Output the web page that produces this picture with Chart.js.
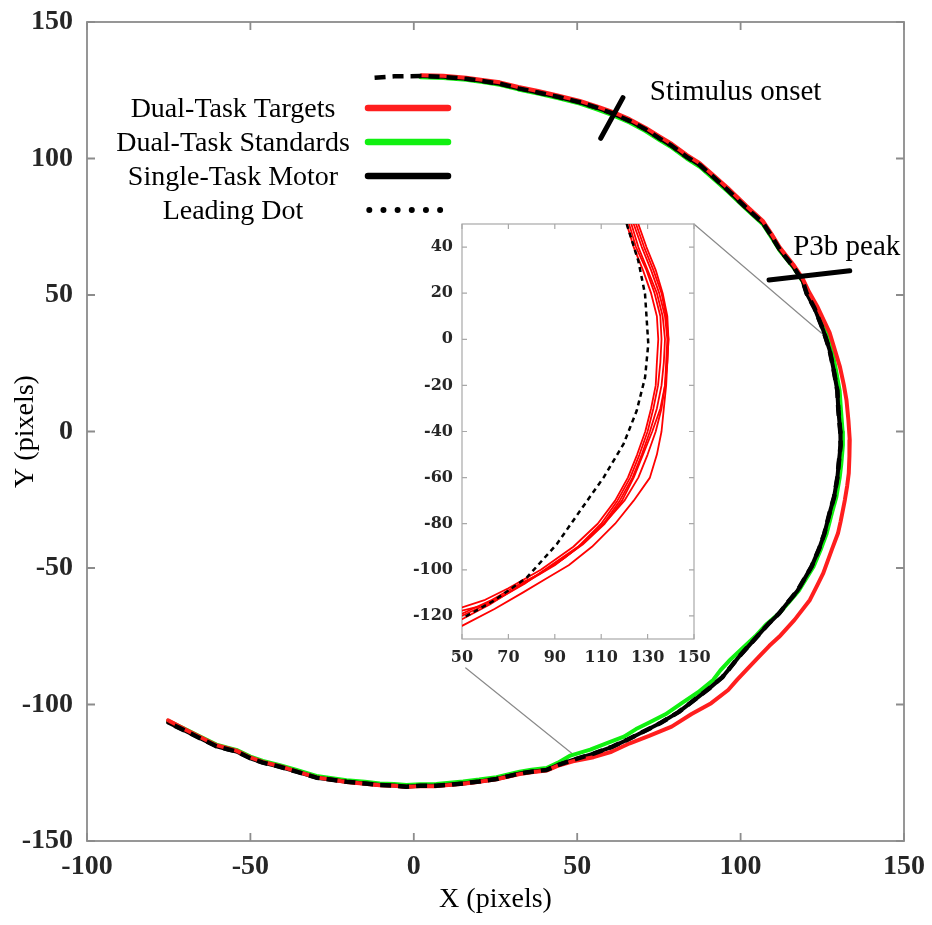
<!DOCTYPE html>
<html>
<head>
<meta charset="utf-8">
<script src="https://cdn.jsdelivr.net/npm/chart.js@4.4.1/dist/chart.umd.min.js"></script>
<style>
  html, body { margin: 0; padding: 0; background: #fff; }
  #wrap { position: relative; width: 932px; height: 925px; }
  #mainChart { position: absolute; left: 0; top: 0; }
  #zoomChart { position: absolute; left: 400px; top: 214px; }
</style>
</head>
<body>
<div id="wrap">
  <canvas id="mainChart" width="932" height="925"></canvas>
  <canvas id="zoomChart" width="310" height="462"></canvas>
</div>
<script>
// ejes del grafico principal
const mainXTicks = [-100, -50, 0, 50, 100, 150];
const mainYTicks = [-150, -100, -50, 0, 50, 100, 150];
// ejes del zoom
const zoomXTicks = [50, 70, 90, 110, 130, 150];
const zoomYTicks = [-120, -100, -80, -60, -40, -20, 0, 20, 40];

// trayectorias (x, y) en pixeles de pantalla
const targetsPath = [[2.3,130.5],[9,130.3],[16,129.6],[21,128.8],[26.3,127.9],[32,126.2],[38,124.7],[44,123.1],[50.8,121.1],[56,119.1],[61,117],[66,114.4],[71,111.2],[75.3,108],[79,105.3],[83.5,101.3],[87.5,98.3],[91.6,94],[96,89.3],[101.8,82.6],[106.9,77],[109.5,72.3],[112,67.4],[116.1,61.2],[119,56],[121,51],[123.6,45.5],[127.3,36],[130.4,23.7],[131.6,17],[132.4,11.5],[133,4],[133.4,-3.1],[133.3,-9],[133.1,-15.3],[132.6,-20],[131.9,-25.1],[130.6,-33],[129.8,-37.3],[128,-43],[125.3,-51.9],[123.6,-56],[121.2,-61.7],[116.5,-69],[111.8,-75.2],[108.8,-78.5],[106,-82],[102,-87],[98.9,-91],[96.2,-94.7],[91,-99.5],[85,-103.5],[78.9,-108.1],[72,-111.5],[66.1,-114.2],[60.5,-117.3],[55,-119.3],[48.7,-120.8],[44,-122.5],[40.6,-124.2],[36,-124.8],[32.4,-125.5],[25.3,-127.4],[20,-128.3],[15.1,-129],[6.9,-129.9],[2,-129.9],[-2.3,-130.2],[-6,-129.8],[-10.4,-129.6],[-15,-129],[-20.6,-128.4],[-25,-127.6],[-29.8,-126.7],[-35.9,-124.5],[-41,-122.6],[-46.2,-121],[-50,-119.4],[-54.3,-116.9],[-57,-116],[-60.4,-114.9],[-64,-112.7],[-70,-109.1],[-75.2,-105.8]];

const standardsPath = [[2,129.8],[9,129.5],[16,128.8],[21,128],[26.3,127],[32,125.3],[38,123.8],[44,122.1],[50.8,120.1],[56,118],[61,115.8],[66,113.2],[71,110],[75.3,106.7],[79,104],[83.5,100],[87.5,97],[91.6,92.7],[96,88],[101.8,81.4],[106.9,75.8],[109.5,71],[112,66.2],[116.1,60.2],[119,55],[120.6,50.6],[123.2,45.2],[125.9,37.4],[127.9,30],[129,23.7],[130.3,15],[130.7,8],[131.2,0],[131.3,-5],[130.8,-12],[130.3,-17],[129.3,-24],[127.9,-30],[126.3,-37.5],[124.6,-43],[122.3,-49.5],[120,-54],[117.8,-58.3],[114.8,-62.5],[111.8,-66.6],[108,-70.5],[104.5,-75],[100.5,-79.5],[96.5,-84],[93.8,-87.5],[91.6,-91],[87,-95.5],[82,-99.5],[77,-103.6],[71.6,-106.9],[68,-109],[64.3,-111.8],[58.9,-114.2],[54,-116.5],[47.9,-118.7],[44,-121.4],[40.6,-123.3],[36,-123.9],[32.4,-124.6],[25.3,-126.6],[20,-127.5],[15.1,-128.2],[6.9,-129.1],[2,-129.2],[-2.3,-129.5],[-6,-129.1],[-10.4,-128.9],[-15,-128.3],[-20.6,-127.7],[-25,-127],[-29.8,-126.2],[-35.9,-124],[-41,-122.2],[-46.2,-120.7],[-50,-119.1],[-54.3,-116.6],[-57,-115.8],[-60.4,-114.7],[-64,-112.6],[-70,-109],[-75.2,-106]];

const motorPath = [[2,130.2],[9,129.9],[16,129.2],[21,128.4],[26.3,127.4],[32,125.7],[38,124.2],[44,122.6],[50.8,120.6],[56,118.6],[61,116.4],[66,113.8],[71,110.6],[75.3,107.3],[79,104.6],[83.5,100.6],[87.5,97.6],[91.6,93.3],[96,88.5],[101.8,81.8],[106.9,76.3],[109.5,71.5],[112,66.6],[116.1,60.4],[119,55.2],[120.2,50.6],[122.6,45.2],[125.2,37.4],[127.2,30],[128.3,23.7],[129.6,15],[129.9,8],[130.5,0],[130.6,-5],[130,-12],[129.6,-17],[128.6,-24],[127.2,-30],[125.6,-37.5],[124,-43],[121.7,-49.5],[119.5,-54],[117.4,-58.3],[114.5,-62.5],[111.8,-66.6],[108.5,-70.5],[105.5,-74.5],[102.5,-78.5],[99.5,-82.5],[96.8,-86.5],[94.4,-90],[90.5,-94],[86,-98.2],[81,-102.8],[75.3,-106.9],[70.5,-109.8],[65.5,-112.8],[60.7,-115.5],[55,-118],[48.7,-120.3],[44,-122.2],[40.6,-124],[36,-124.6],[32.4,-125.3],[25.3,-127.3],[20,-128.2],[15.1,-128.9],[6.9,-129.8],[2,-129.8],[-2.3,-130.1],[-6,-129.7],[-10.4,-129.5],[-15,-128.9],[-20.6,-128.3],[-25,-127.6],[-29.8,-126.8],[-35.9,-124.6],[-41,-122.8],[-46.2,-121.3],[-50,-119.7],[-54.3,-117.2],[-57,-116.4],[-60.4,-115.3],[-64,-113.2],[-70,-109.6],[-75.2,-106.6]];

// el punto guia arranca antes y sigue el camino del motor
const leadStart = [[-12,129.6],[-6,130.1]];
const leadPath = leadStart.concat(motorPath);

// marcas de eventos
const stimulusMark = [[57.2,107.4],[64,122.3]];
const p3bMark = [[108.7,55.5],[133.4,58.9]];
const noteTexts = ['Stimulus onset', 'P3b peak'];
const noteAnchors = [[72.2,121.4],[116.1,64.7]];

// lineas que unen el zoom con la curva
const linkTop = [[85.7,76],[124.8,36]];
const linkBottom = [[15.9,-86.6],[48.6,-118.1]];

// zoom: ensayos Dual-Task Targets
const trial1 = [[121,50],[124,40],[128,30],[131.5,20],[134,10],[134.6,0],[134,-10],[133.5,-20],[131.5,-30],[129,-40],[125.5,-50],[121.5,-60],[116,-70],[108.5,-80],[98,-90],[84,-100],[70,-108],[60,-113],[50,-116.3]];
const trial2 = [[122,50],[125,40],[129.5,30],[133,20],[135.5,10],[136,0],[135.5,-10],[134.5,-20],[132.5,-30],[130,-40],[126.5,-50],[122.5,-60],[117,-70],[110,-80],[100,-90],[87,-99],[77,-106],[65,-113],[50,-119.9]];
const trial3 = [[123,50],[126,40],[130,30],[134,20],[136.5,10],[137.5,0],[137,-10],[136,-20],[134,-30],[131,-40],[127.5,-50],[123.5,-60],[118,-70],[111,-80],[101.5,-89],[90,-98],[80,-104],[68,-111],[57,-116],[50,-117.7]];
const trial4 = [[124,50],[127.5,40],[131.5,30],[135,20],[137.5,10],[138.5,0],[138,-10],[137.5,-20],[135.5,-30],[132,-40],[128,-50],[124,-60],[119,-70],[111.5,-80],[102,-89],[91,-97],[81,-103],[73,-108],[62,-115],[50,-121.4]];
const trial5 = [[125,50],[128.5,40],[132.5,30],[136,20],[138,10],[139,0],[138.5,-10],[137.5,-20],[136,-30],[133.5,-40],[130,-50],[126,-60],[120,-70],[113,-78],[104,-87],[94,-95],[83,-102],[75,-106],[63,-113],[50,-119]];
const trial6 = [[126,50],[129.5,40],[133.5,30],[136.5,20],[138.5,10],[139,0],[138.5,-10],[138,-20],[137,-30],[136,-40],[134,-50],[131,-60],[124,-70],[116,-80],[106,-90],[96,-98],[86,-104],[76,-110],[64,-117],[50,-124.3]];
const zoomTrials = [trial1, trial2, trial3, trial4, trial5, trial6];
const zoomLead = [[121,50],[126,34],[128.9,19.5],[130.3,-2],[128.9,-16.6],[125.3,-31],[119.6,-45.5],[111,-60],[100.9,-74.4],[90.9,-88.8],[78,-103.3],[63.6,-113.5],[50.7,-120.7]];

const legendLabels = ['Dual-Task Targets', 'Dual-Task Standards', 'Single-Task Motor', 'Leading Dot'];

const RED = '#ff1e1e';
const GREEN = '#10f010';
const BLACK = '#000000';
const serif = "'Liberation Serif', 'Times New Roman', serif";

const toXY = arr => arr.map(p => ({ x: p[0], y: p[1] }));

// caja con ticks hacia adentro (estilo matlab)
const boxAxes = {
    id: 'boxAxes',
    beforeDatasetsDraw(chart, args, opts) {
        const { ctx, chartArea: a, scales } = chart;
        ctx.save();
        ctx.strokeStyle = opts.color;
        ctx.lineWidth = opts.width;
        ctx.strokeRect(a.left, a.top, a.right - a.left, a.bottom - a.top);
        ctx.beginPath();
        scales.x.ticks.forEach(t => {
            const px = scales.x.getPixelForValue(t.value);
            ctx.moveTo(px, a.bottom); ctx.lineTo(px, a.bottom - opts.len);
            ctx.moveTo(px, a.top); ctx.lineTo(px, a.top + opts.len);
        });
        scales.y.ticks.forEach(t => {
            const py = scales.y.getPixelForValue(t.value);
            ctx.moveTo(a.left, py); ctx.lineTo(a.left + opts.len, py);
            ctx.moveTo(a.right, py); ctx.lineTo(a.right - opts.len, py);
        });
        ctx.stroke();
        ctx.restore();
    }
};

// leyenda: texto a la izquierda y la linea a la derecha
const legendRows = {
    id: 'legendRows',
    afterDraw(chart, args, opts) {
        const ctx = chart.ctx;
        ctx.save();
        ctx.font = '28px ' + serif;
        ctx.fillStyle = '#000';
        ctx.textAlign = 'center';
        ctx.textBaseline = 'alphabetic';
        opts.items.forEach((it, i) => {
            const y = opts.top + i * opts.gap;
            ctx.fillText(it.label, opts.textCenter, y + 9);
            ctx.beginPath();
            ctx.strokeStyle = it.color;
            ctx.lineCap = 'round';
            if (it.dotted) {
                ctx.lineWidth = 6;
                ctx.setLineDash([0.01, 14.15]);
                ctx.moveTo(opts.dotFrom, y); ctx.lineTo(opts.dotTo, y);
            } else {
                ctx.lineWidth = 6.5;
                ctx.setLineDash([]);
                ctx.moveTo(opts.lineFrom, y); ctx.lineTo(opts.lineTo, y);
            }
            ctx.stroke();
        });
        ctx.restore();
    }
};

// textos de los eventos
const eventNotes = {
    id: 'eventNotes',
    afterDraw(chart) {
        const { ctx, scales } = chart;
        ctx.save();
        ctx.font = '29px ' + serif;
        ctx.fillStyle = '#000';
        ctx.textAlign = 'left';
        ctx.textBaseline = 'alphabetic';
        noteTexts.forEach((txt, i) => {
            ctx.fillText(txt, scales.x.getPixelForValue(noteAnchors[i][0]), scales.y.getPixelForValue(noteAnchors[i][1]));
        });
        ctx.restore();
    }
};

function lineSet(label, path, color, width, order, dash) {
    return {
        label: label,
        data: toXY(path),
        showLine: true,
        borderColor: color,
        borderWidth: width,
        borderDash: dash || [],
        borderJoinStyle: 'round',
        borderCapStyle: dash ? 'butt' : 'round',
        pointRadius: 0,
        tension: 0,
        order: order
    };
}

// ancho/alto fijo del eje y sin relleno extra por las etiquetas
function fixAxis(size) {
    return s => {
        if (s.isHorizontal()) s.height = size; else s.width = size;
        s.paddingTop = 0; s.paddingBottom = 0; s.paddingLeft = 0; s.paddingRight = 0;
    };
}

const mainChart = new Chart(document.getElementById('mainChart'), {
    type: 'scatter',
    data: {
        datasets: [
            lineSet('Leading Dot', leadPath, BLACK, 4.5, 0, [11, 7]),
            lineSet('stimulus', stimulusMark, BLACK, 5, 1),
            lineSet('p3b', p3bMark, BLACK, 5, 1),
            lineSet(legendLabels[0], targetsPath, RED, 4, 2),
            lineSet(legendLabels[2], motorPath, BLACK, 4, 3),
            lineSet(legendLabels[1], standardsPath, GREEN, 4, 4),
            lineSet('linkTop', linkTop, '#8a8a8a', 1.2, 5),
            lineSet('linkBottom', linkBottom, '#8a8a8a', 1.2, 5)
        ]
    },
    options: {
        responsive: false,
        animation: false,
        devicePixelRatio: 1,
        layout: { padding: { top: 22, right: 28, left: 0, bottom: 0 } },
        plugins: {
            legend: { display: false },
            tooltip: { enabled: false },
            boxAxes: { color: '#8c8c8c', width: 1.8, len: 8 },
            legendRows: {
                top: 108, gap: 34, textCenter: 233,
                lineFrom: 368, lineTo: 448, dotFrom: 369.3, dotTo: 441,
                items: [
                    { label: legendLabels[0], color: RED },
                    { label: legendLabels[1], color: GREEN },
                    { label: legendLabels[2], color: BLACK },
                    { label: legendLabels[3], color: BLACK, dotted: true }
                ]
            }
        },
        scales: {
            x: {
                type: 'linear', min: -100, max: 150,
                afterBuildTicks: s => { s.ticks = mainXTicks.map(v => ({ value: v })); },
                afterFit: fixAxis(84),
                grid: { display: false, drawTicks: false },
                border: { display: false },
                ticks: { padding: 9, color: '#262626', font: { family: serif, size: 28, weight: 'bold' }, callback: v => String(v), maxRotation: 0 },
                title: { display: true, text: 'X (pixels)', color: '#000', font: { family: serif, size: 28 }, padding: { top: 0, bottom: 9 } }
            },
            y: {
                type: 'linear', min: -150, max: 150,
                afterBuildTicks: s => { s.ticks = mainYTicks.map(v => ({ value: v })); },
                afterFit: fixAxis(87),
                grid: { display: false, drawTicks: false },
                border: { display: false },
                ticks: { padding: 14, color: '#262626', font: { family: serif, size: 28, weight: 'bold' }, callback: v => String(v) },
                title: { display: true, text: 'Y (pixels)', color: '#000', font: { family: serif, size: 28 }, padding: { top: 9, bottom: 0 } }
            }
        }
    },
    plugins: [boxAxes, legendRows, eventNotes]
});

// grafico del zoom
const zoomSets = zoomTrials.map((t, i) => lineSet('trial ' + (i + 1), t, '#ff0000', 1.8, 1));
zoomSets.unshift(lineSet('Leading Dot', zoomLead, BLACK, 2.5, 0, [5, 4]));

const zoomChart = new Chart(document.getElementById('zoomChart'), {
    type: 'scatter',
    data: { datasets: zoomSets },
    options: {
        responsive: false,
        animation: false,
        devicePixelRatio: 1,
        layout: { padding: { top: 10, right: 16, left: 0, bottom: 0 } },
        plugins: {
            legend: { display: false },
            tooltip: { enabled: false },
            boxAxes: { color: '#a8a8a8', width: 1.2, len: 5 }
        },
        scales: {
            x: {
                type: 'linear', min: 50, max: 150,
                afterBuildTicks: s => { s.ticks = zoomXTicks.map(v => ({ value: v })); },
                afterFit: fixAxis(37),
                grid: { display: false, drawTicks: false },
                border: { display: false },
                ticks: { padding: 9, color: '#262626', font: { family: 'DejaVu Serif', size: 16, weight: 'bold' }, callback: v => String(v), maxRotation: 0, autoSkip: false }
            },
            y: {
                type: 'linear', min: -130, max: 50,
                afterBuildTicks: s => { s.ticks = zoomYTicks.map(v => ({ value: v })); },
                afterFit: fixAxis(62),
                grid: { display: false, drawTicks: false },
                border: { display: false },
                ticks: { padding: 9, color: '#262626', font: { family: 'DejaVu Serif', size: 16, weight: 'bold' }, callback: v => String(v), autoSkip: false }
            }
        }
    },
    plugins: [boxAxes]
});
</script>
</body>
</html>
